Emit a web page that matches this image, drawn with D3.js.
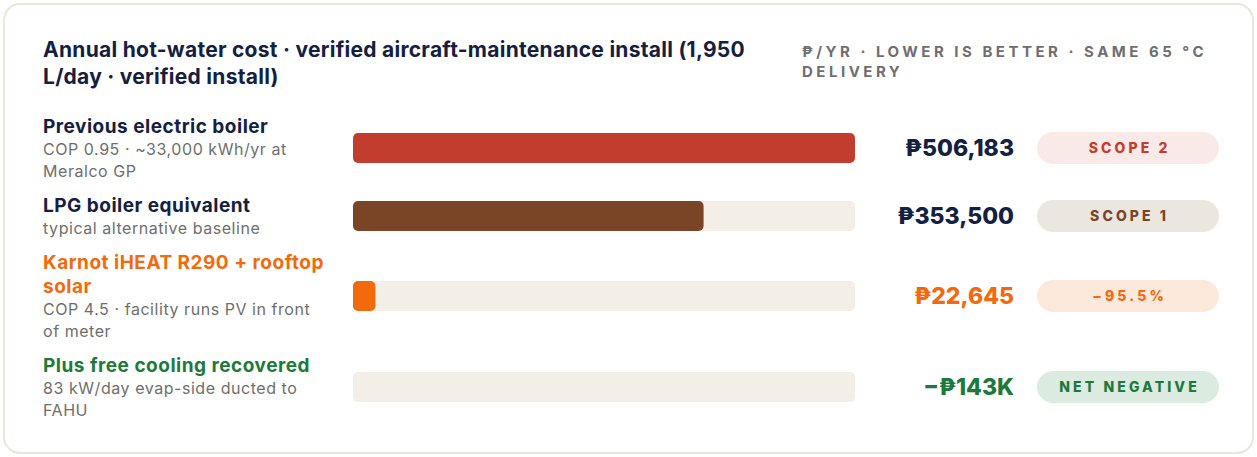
<!DOCTYPE html>
<html>
<head>
<meta charset="utf-8">
<script src="https://cdn.jsdelivr.net/npm/d3@7"></script>
<style>
  body { margin: 0; background: #fff; font-family: Inter, "Noto Sans", sans-serif; }
</style>
</head>
<body>
<div class="chart"></div>
<script>
const titleLines = ['Annual hot-water cost · verified aircraft-maintenance install (1,950', 'L/day · verified install)'];
const noteLines = ['₱/YR · LOWER IS BETTER · SAME 65 °C', 'DELIVERY'];

const labels = [
  ['Previous electric boiler'],
  ['LPG boiler equivalent'],
  ['Karnot iHEAT R290 + rooftop', 'solar'],
  ['Plus free cooling recovered'],
];
const subLabels = [
  ['COP 0.95 · ~33,000 kWh/yr at', 'Meralco GP'],
  ['typical alternative baseline'],
  ['COP 4.5 · facility runs PV in front', 'of meter'],
  ['83 kW/day evap-side ducted to', 'FAHU'],
];
const values = [506183, 353500, 22645, -143000];
const valueLabels = ['₱506,183', '₱353,500', '₱22,645', '−₱143K'];
const tags = ['SCOPE 2', 'SCOPE 1', '−95.5%', 'NET NEGATIVE'];
const colors = ['#c33d2e', '#7a4527', '#f26a0c', '#1e7a3c'];
const labelColors = ['#13203f', '#13203f', '#f26a0c', '#1e7a3c'];
const valueColors = ['#13203f', '#13203f', '#f26a0c', '#1e7a3c'];
const tagBg = ['#f9e9e7', '#ece6e0', '#fde8dc', '#dcebe0'];

const W = 1257, H = 457;
const svg = d3.select('.chart').append('svg').attr('width', W).attr('height', H);

svg.append('rect')
  .attr('x', 4).attr('y', 4)
  .attr('width', W - 8).attr('height', H - 8)
  .attr('rx', 16)
  .attr('fill', '#fff')
  .attr('stroke', '#ebe6dc')
  .attr('stroke-width', 2);

svg.append('g').selectAll('text')
  .data(titleLines)
  .enter()
  .append('text')
  .attr('x', 43)
  .attr('y', (d, i) => 57 + i * 27)
  .style('font', '700 21px Inter, sans-serif')
  .style('letter-spacing', '0.27px')
  .attr('fill', '#13203f')
  .text(d => d);

svg.append('g').selectAll('text')
  .data(noteLines)
  .enter()
  .append('text')
  .attr('x', 802)
  .attr('y', (d, i) => 57 + i * 20)
  .style('font', '700 15px Inter, sans-serif')
  .style('letter-spacing', '3.5px')
  .attr('fill', '#6e6e73')
  .text(d => d);

// row layout: label block height drives row height
const titleLH = 24, subLH = 22, gap = 11;
const rows = [];
let rowTop = 115;
labels.forEach((l, i) => {
  const h = l.length * titleLH + subLabels[i].length * subLH;
  rows.push({top: rowTop, h: h});
  rowTop += h + gap;
});

const barX = 353, barW = 502, barH = 30;
const x = d3.scaleLinear().domain([0, d3.max(values)]).range([0, barW]).clamp(true);

const row = svg.append('g').selectAll('.row')
  .data(values)
  .enter()
  .append('g')
  .attr('class', 'row')
  .attr('transform', (d, i) => `translate(0,${rows[i].top})`);

row.each(function(d, i) {
  const g = d3.select(this);
  const r = rows[i];
  labels[i].forEach((t, j) => {
    g.append('text')
      .attr('x', 43)
      .attr('y', 18 + j * titleLH)
      .style('font', '700 19px Inter, sans-serif')
      .style('letter-spacing', '0.5px')
      .attr('fill', labelColors[i])
      .text(t);
  });
  const subStart = 18 + (labels[i].length - 1) * titleLH + subLH;
  subLabels[i].forEach((t, j) => {
    g.append('text')
      .attr('x', 43)
      .attr('y', subStart + j * subLH)
      .style('font', '400 16px Inter, sans-serif')
      .style('letter-spacing', '0.55px')
      .attr('fill', '#6e6e6e')
      .text(t);
  });

  const cy = r.h / 2 - 1;
  g.append('rect')
    .attr('x', barX).attr('y', cy - barH / 2)
    .attr('width', barW).attr('height', barH)
    .attr('rx', 5)
    .attr('fill', '#f3efe7');
  if (x(d) > 0) {
    g.append('rect')
      .attr('x', barX).attr('y', cy - barH / 2)
      .attr('width', x(d)).attr('height', barH)
      .attr('rx', 5)
      .attr('fill', colors[i]);
  }

  g.append('text')
    .attr('x', 1014)
    .attr('y', cy + 8)
    .attr('text-anchor', 'end')
    .style('font', '800 23px Inter, sans-serif')
    .attr('fill', valueColors[i])
    .text(valueLabels[i]);

  g.append('rect')
    .attr('x', 1037).attr('y', cy - 16)
    .attr('width', 182).attr('height', 32)
    .attr('rx', 16)
    .attr('fill', tagBg[i]);
  g.append('text')
    .attr('x', 1128 + 1.6)
    .attr('y', cy + 5)
    .attr('text-anchor', 'middle')
    .style('font', '800 14px Inter, sans-serif')
    .style('letter-spacing', '3.1px')
    .attr('fill', colors[i])
    .text(tags[i]);
});
</script>
</body>
</html>
